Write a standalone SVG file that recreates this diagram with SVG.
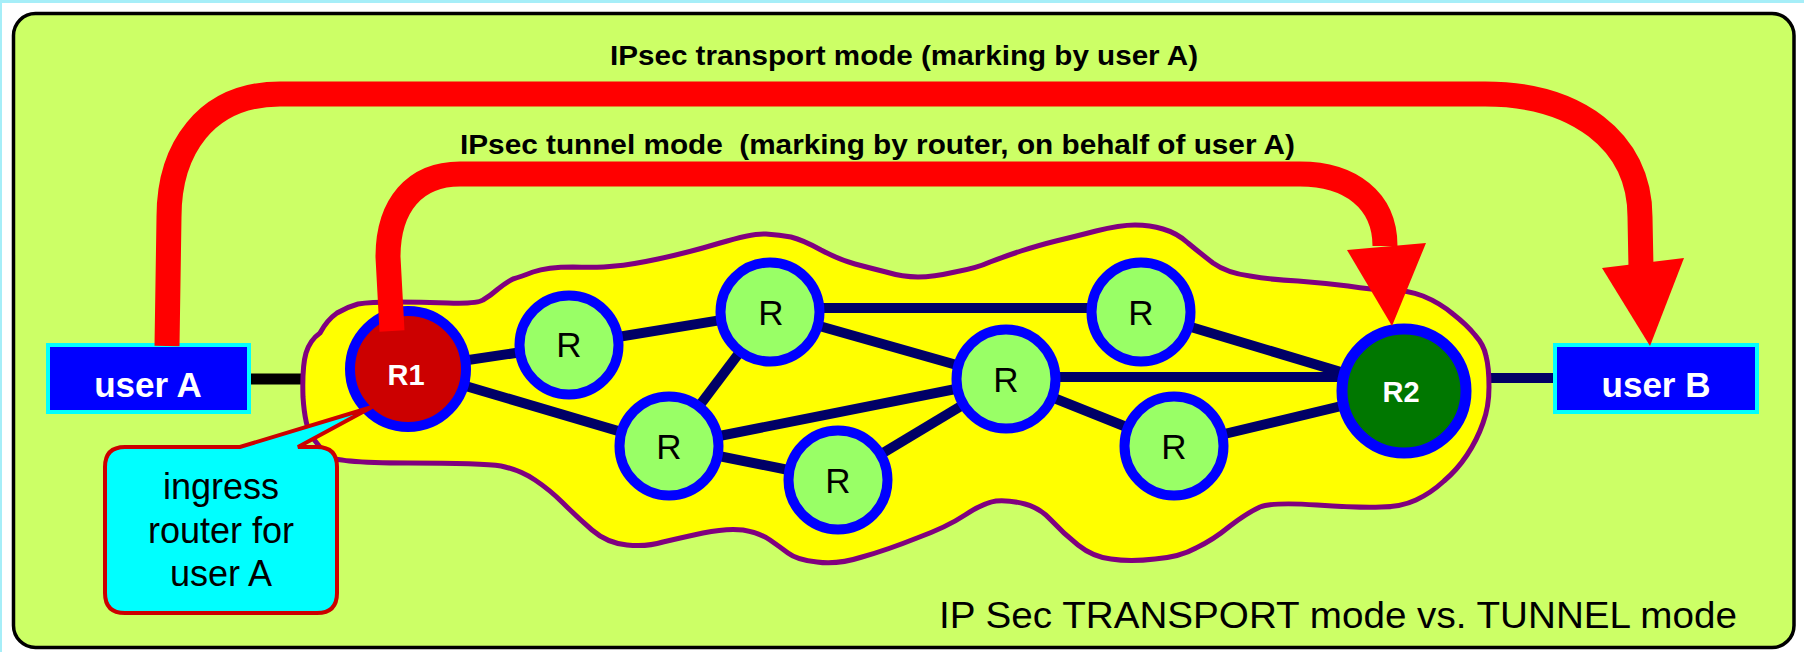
<svg xmlns="http://www.w3.org/2000/svg" width="1804" height="652" viewBox="0 0 1804 652">
  <style>
    .link { stroke: #000066; stroke-width: 10; fill: none; }
    .ring { stroke: #0000ff; stroke-width: 10; }
    .gr { fill: #99ff66; }
    .rl { font-family: "Liberation Sans", Arial, sans-serif; font-size: 35px; fill: #000; text-anchor: middle; }
    .wb { font-family: "Liberation Sans", Arial, sans-serif; font-weight: bold; fill: #fff; text-anchor: middle; }
    .user { fill: #0000ff; stroke: #00ffff; stroke-width: 4; }
    .arrow { stroke: #ff0000; stroke-width: 25; fill: none; }
    .head { fill: #ff0000; }
    .lbl { font-family: "Liberation Sans", Arial, sans-serif; font-weight: bold; font-size: 27px; fill: #000; white-space: pre; }
  </style>
  <rect x="0" y="0" width="1804" height="652" fill="#ffffff"/>
  <rect x="0" y="0" width="1804" height="3" fill="#a6eef8"/>
  <rect x="0" y="0" width="2" height="652" fill="#a6eef8"/>
  <rect id="frame" x="13.5" y="13.5" width="1780.5" height="634" rx="22" ry="22" fill="#ccff66" stroke="#000" stroke-width="3.5"/>

  <g id="access-links">
    <line x1="249" y1="379" x2="310" y2="379" stroke="#000" stroke-width="11"/>
    <line x1="1480" y1="378" x2="1556" y2="378" stroke="#000066" stroke-width="10"/>
  </g>

  <g id="cloud">
    <path fill="#ffff00" stroke="#800080" stroke-width="5" stroke-linejoin="round" d="M320,333 Q327,320 337,313 Q347,307 358,304 Q370,302 395,302 Q420,302 448,303 Q477,304 483,300 Q490,296 498,289 Q507,282 513,279 Q520,277 533,272 Q547,267 573,267 Q600,268 615,266 Q630,265 658,259 Q687,253 720,243 Q753,233 766,234 Q780,235 791,237 Q803,240 821,250 Q840,260 855,264 Q870,268 886,272 Q903,277 918,277 Q933,277 955,272 Q977,268 990,262 Q1003,257 1021,251 Q1040,245 1056,241 Q1073,237 1096,231 Q1120,225 1135,225 Q1150,225 1163,229 Q1177,233 1188,243 Q1200,253 1213,263 Q1227,273 1250,276 Q1273,280 1298,281 Q1323,283 1348,286 Q1373,290 1390,290 Q1407,290 1423,296 Q1440,303 1453,314 Q1467,325 1475,335 Q1484,345 1486,356 Q1489,367 1489,387 Q1489,407 1483,423 Q1477,440 1467,455 Q1457,470 1444,481 Q1431,493 1416,500 Q1401,507 1381,507 Q1361,508 1317,505 Q1273,502 1260,507 Q1247,513 1230,526 Q1213,540 1196,548 Q1180,557 1155,559 Q1130,562 1111,559 Q1093,557 1078,545 Q1063,533 1051,520 Q1040,508 1025,504 Q1010,500 996,501 Q983,503 965,515 Q947,527 917,538 Q887,550 862,557 Q837,565 817,562 Q797,560 788,553 Q780,547 770,540 Q760,533 743,530 Q727,528 703,533 Q680,538 663,542 Q647,547 627,545 Q607,543 592,530 Q577,517 563,503 Q550,490 535,480 Q520,470 501,466 Q483,463 408,463 Q333,463 326,455 Q320,447 312,437 Q305,427 303,397 Q302,367 306,353 Q310,340 320,333 Z"/>
  </g>

  <g id="links">
    <line class="link" x1="408" y1="369" x2="569" y2="345"/>
    <line class="link" x1="408" y1="369" x2="669" y2="446"/>
    <line class="link" x1="569" y1="345" x2="770" y2="312"/>
    <line class="link" x1="770" y1="312" x2="669" y2="446"/>
    <line class="link" x1="770" y1="308" x2="1141" y2="308"/>
    <line class="link" x1="770" y1="312" x2="1006" y2="379"/>
    <line class="link" x1="669" y1="446" x2="1006" y2="379"/>
    <line class="link" x1="669" y1="446" x2="838" y2="480"/>
    <line class="link" x1="838" y1="480" x2="1006" y2="379"/>
    <line class="link" x1="1006" y1="377" x2="1404" y2="377"/>
    <line class="link" x1="1141" y1="312" x2="1404" y2="391"/>
    <line class="link" x1="1006" y1="379" x2="1174" y2="446"/>
    <line class="link" x1="1174" y1="446" x2="1404" y2="391"/>
  </g>

  <g id="R1">
    <circle cx="408" cy="369" r="58" fill="#cc0000" class="ring"/>
    <text x="406" y="385" class="wb" font-size="29">R1</text>
  </g>
  <g id="Ra">
    <circle cx="569" cy="345" r="49.5" class="gr ring"/>
    <text x="569" y="357" class="rl">R</text>
  </g>
  <g id="Rb">
    <circle cx="770" cy="312" r="49.5" class="gr ring"/>
    <text x="771" y="325" class="rl">R</text>
  </g>
  <g id="Rc">
    <circle cx="669" cy="446" r="49.5" class="gr ring"/>
    <text x="669" y="459" class="rl">R</text>
  </g>
  <g id="Rd">
    <circle cx="838" cy="480" r="49.5" class="gr ring"/>
    <text x="838" y="493" class="rl">R</text>
  </g>
  <g id="Re">
    <circle cx="1006" cy="379" r="49.5" class="gr ring"/>
    <text x="1006" y="392" class="rl">R</text>
  </g>
  <g id="Rf">
    <circle cx="1141" cy="312" r="49.5" class="gr ring"/>
    <text x="1141" y="325" class="rl">R</text>
  </g>
  <g id="Rg">
    <circle cx="1174" cy="446" r="49.5" class="gr ring"/>
    <text x="1174" y="459" class="rl">R</text>
  </g>
  <g id="R2">
    <circle cx="1404" cy="391" r="62" fill="#007700" stroke="#0000ff" stroke-width="11"/>
    <text x="1401" y="402" class="wb" font-size="29">R2</text>
  </g>

  <g id="userA">
    <rect x="48" y="345" width="201" height="67" class="user"/>
    <text x="148" y="397" class="wb" font-size="35">user A</text>
  </g>
  <g id="userB">
    <rect x="1555" y="345" width="202" height="67" class="user"/>
    <text x="1656" y="397" class="wb" font-size="35">user B</text>
  </g>

  <g id="arrows">
    <path class="arrow" d="M167,346 L169,217 C169,150 205,94 280,94 L1485,94 C1575,94 1640,140 1640,217 L1641,268"/>
    <polygon class="head" points="1602,268 1684,258 1650,346"/>
    <path class="arrow" d="M392,331 L388,257 C388,205 415,174 460,174 L1300,174 C1350,174 1385,200 1385,246"/>
    <polygon class="head" points="1347,250 1426,243 1392,326"/>
  </g>

  <g id="labels">
    <text x="610" y="65" class="lbl" textLength="588" lengthAdjust="spacingAndGlyphs">IPsec transport mode (marking by user A)</text>
    <text x="460" y="154" class="lbl" textLength="835" lengthAdjust="spacingAndGlyphs">IPsec tunnel mode  (marking by router, on behalf of user A)</text>
    <text x="939" y="628" font-family="Liberation Sans, Arial, sans-serif" font-size="37" fill="#000" textLength="798" lengthAdjust="spacingAndGlyphs">IP Sec TRANSPORT mode vs. TUNNEL mode</text>
  </g>

  <g id="callout">
    <path fill="#00ffff" stroke="#cc0000" stroke-width="4" stroke-linejoin="miter" d="M125,447 L240,447 L372,407 L298,447 L317,447 Q337,447 337,467 L337,593 Q337,613 317,613 L125,613 Q105,613 105,593 L105,467 Q105,447 125,447 Z"/>
    <g font-family="Liberation Sans, Arial, sans-serif" font-size="36" fill="#000" text-anchor="middle">
      <text x="221" y="499">ingress</text>
      <text x="221" y="543">router for</text>
      <text x="221" y="586">user A</text>
    </g>
  </g>
</svg>
